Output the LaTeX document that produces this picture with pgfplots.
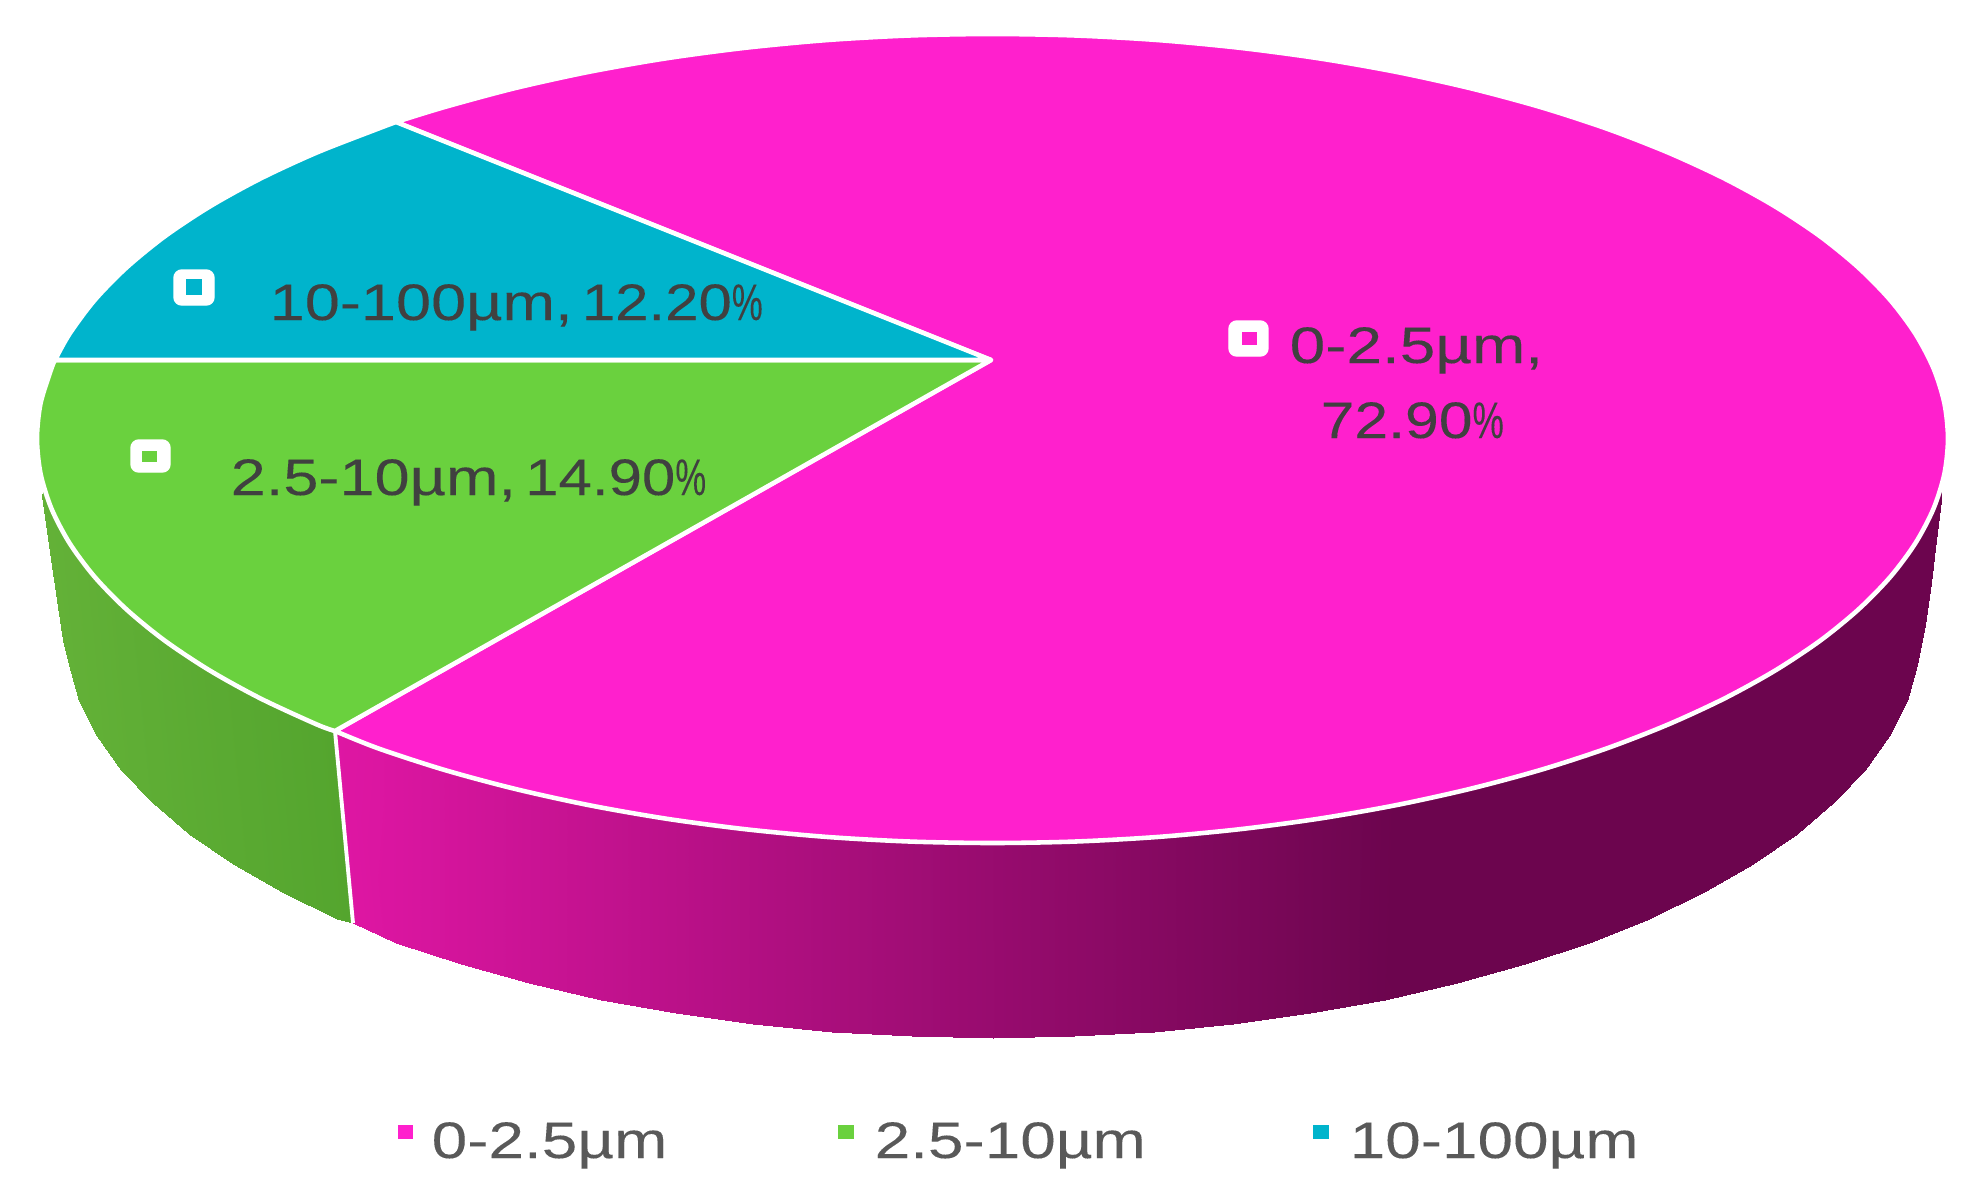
\documentclass[border=0pt]{standalone}
\usepackage{pgfplots}
\pgfplotsset{compat=1.18}
\usepackage{fontspec}
\newfontfamily\lblfont[FakeStretch=1.23,FakeBold=0.12]{Liberation Sans}
\newfontfamily\widefont[FakeStretch=1.245,FakeBold=0.12]{Liberation Sans}
\definecolor{pinkc}{RGB}{255,32,205}
\definecolor{greenc}{RGB}{106,209,62}
\definecolor{tealc}{RGB}{0,180,204}
\definecolor{lbltxt}{RGB}{64,64,64}
\definecolor{legtxt}{RGB}{89,89,89}
\pgfplotsset{
  colormap={pinkside}{rgb255=(222,22,163) rgb255=(108,5,78)},
  colormap={greenside}{rgb255=(84,165,46) rgb255=(100,178,56)},
}
\tikzset{
  lbl/.style={anchor=base west, inner sep=0pt, font=\lblfont\fontsize{14.6}{16}\selectfont, text=lbltxt},
  wlbl/.style={anchor=base west, inner sep=0pt, font=\widefont\fontsize{14.6}{16}\selectfont, text=lbltxt},
  leg/.style={anchor=base west, inner sep=0pt, font=\widefont\fontsize{14.6}{16}\selectfont, text=legtxt},
  wedge/.style={draw=white, line width=1.3pt, line join=round},
  box/.style={fill=white, draw=white, rounded corners=2.2pt},
}
\newcommand{\pct}{\scalebox{0.55}[1]{\%}}
\newcommand{\num}[1]{\scalebox{0.95}[1]{#1}}
\begin{document}
\begin{tikzpicture}
\useasboundingbox (0,0) rectangle (19.77cm,12.03cm);
\begin{axis}[
    at={(0,0)}, anchor=south west,
    scale only axis, width=19.77cm, height=12.03cm,
    view={0}{90},
    xmin=0, xmax=1977, ymin=0, ymax=1203, zmin=-1, zmax=1,
    y dir=reverse,
    hide axis, clip=false,
    point meta min=0, point meta max=1,
]
% side of the 0-2.5um slice: upper edge, then lower edge
\addplot3[surf, shader=interp, colormap name=pinkside, mesh/rows=2, point meta=explicit]
  table[x=x, y=y, z expr=0, meta=m] {
x y m
335 731 0
378.3 748.4 .024
444.4 769.9 .088
514.7 788.8 .156
588.7 805.1 .227
665.7 818.6 .302
745.2 829.2 .378
826.6 836.9 .457
909.2 841.5 .536
992.5 843 .617
1075.8 841.5 .697
1158.4 836.9 .777
1239.8 829.2 .855
1319.3 818.6 .932
1396.3 805.1 1
1470.3 788.8 1
1540.6 769.9 1
1606.7 748.4 1
1668.1 724.5 1
1724.4 698.5 1
1775.2 670.5 1
1820 640.8 1
1858.5 609.4 1
1890.4 576.8 1
1915.4 543.2 1
1925 525 1
1933.5 508.7 1
1938 498 1
1940.5 494 1
1941.5 492 1
1942 490 1
353 923 0
396.5 942.5 .042
460.7 964.2 .104
529 983.3 .170
600.8 999.8 .239
675.6 1013.4 .311
752.8 1024.1 .386
831.9 1031.8 .462
912.1 1036.4 .539
993 1038 .617
1073.9 1036.4 .695
1154.1 1031.8 .772
1233.2 1024.1 .849
1310.4 1013.4 .923
1385.2 999.8 .995
1457 983.3 1
1525.3 964.2 1
1589.5 942.5 1
1649.2 918.5 1
1703.8 892.3 1
1753.2 864 1
1796.6 834 1
1834 802.4 1
1865 769.5 1
1889.4 735.6 1
1906.9 700.8 1
1917 665 1
1925 625 1
1931 583 1
1936 540 1
1942 493 1
};
% side of the 2.5-10um slice
\addplot3[surf, shader=interp, colormap name=greenside, mesh/rows=2, point meta=explicit]
  table[x=x, y=y, z expr=0, meta=m] {
x y m
335 731 0
316.9 724.5 .06
260.6 698.5 .24
209.8 670.5 .40
165 640.8 .55
126.5 609.4 .67
94.6 576.8 .78
69.6 543.2 .86
51.5 508.7 .91
48 500 .92
46 497 .93
45 494 .93
44 492 .96
43 490 1
353 923 0
336.8 918.5 .05
282.2 892.3 .23
232.8 864 .39
189.4 834 .53
152 802.4 .65
121 769.5 .75
96.6 735.6 .83
79.1 700.8 .88
69 665 .92
63 640 .93
58 607 .95
50 552 .98
42 496 1
};
% seam between the two sides
\addplot[white, line width=1.1pt] coordinates {(335,731) (353,923)};

% top faces
\addplot[wedge, fill=pinkc, smooth] coordinates {
(396,122) (444.4,107.1) (514.7,88.2) (588.7,71.9) (665.7,58.4) (745.2,47.8)
(826.6,40.1) (909.2,35.5) (992.5,34) (1075.8,35.5) (1158.4,40.1) (1239.8,47.8)
(1319.3,58.4) (1396.3,71.9) (1470.3,88.2) (1540.6,107.1) (1606.7,128.6) (1668.1,152.5)
(1724.4,178.5) (1775.2,206.5) (1820,236.2) (1858.5,267.6) (1890.4,300.2) (1915.4,333.8)
(1933.5,368.3) (1944.4,403.2) (1948,438.5) (1944.4,473.8) (1933.5,508.7) (1915.4,543.2)
(1890.4,576.8) (1858.5,609.4) (1820,640.8) (1775.2,670.5) (1724.4,698.5) (1668.1,724.5)
(1606.7,748.4) (1540.6,769.9) (1470.3,788.8) (1396.3,805.1) (1319.3,818.6) (1239.8,829.2)
(1158.4,836.9) (1075.8,841.5) (992.5,843) (909.2,841.5) (826.6,836.9) (745.2,829.2)
(665.7,818.6) (588.7,805.1) (514.7,788.8) (444.4,769.9) (378.3,748.4) (335,731)
} -- (axis cs:991,360) -- cycle;
\addplot[wedge, fill=greenc, smooth] coordinates {
(335,731) (316.9,724.5) (260.6,698.5) (209.8,670.5) (165,640.8) (126.5,609.4)
(94.6,576.8) (69.6,543.2) (51.5,508.7) (40.6,473.8) (37,438.5) (40.6,403.2) (51.5,368.3) (55,360)
} -- (axis cs:991,360) -- cycle;
\addplot[wedge, fill=tealc, smooth] coordinates {
(55,360) (69.6,333.8) (94.6,300.2) (126.5,267.6) (165,236.2) (209.8,206.5)
(260.6,178.5) (316.9,152.5) (378.3,128.6) (396,122)
} -- (axis cs:991,360) -- cycle;

% data label keys
\addplot[box] coordinates {(1229,321) (1268,321) (1268,356) (1229,356)} -- cycle;
\addplot[fill=pinkc, draw=none] coordinates {(1242,332) (1257,332) (1257,345) (1242,345)} -- cycle;
\addplot[box] coordinates {(131,440) (170,440) (170,472) (131,472)} -- cycle;
\addplot[fill=greenc, draw=none] coordinates {(142,451) (157,451) (157,462) (142,462)} -- cycle;
\addplot[box] coordinates {(174,270) (214,270) (214,305) (174,305)} -- cycle;
\addplot[fill=tealc, draw=none] coordinates {(186,279) (202,279) (202,295) (186,295)} -- cycle;

% legend keys
\addplot[fill=pinkc, draw=none] coordinates {(398,1125) (413,1125) (413,1139) (398,1139)} -- cycle;
\addplot[fill=greenc, draw=none] coordinates {(838,1125) (854,1125) (854,1139) (838,1139)} -- cycle;
\addplot[fill=tealc, draw=none] coordinates {(1313,1125) (1329,1125) (1329,1139) (1313,1139)} -- cycle;

\node[wlbl] at (axis cs:1289,363) {0-2.5µm,};
\node[wlbl] at (axis cs:1320,438) {\num{72.90}\pct};
\node[lbl] at (axis cs:269,320) {10-100µm,\hspace{2.6pt}\num{12.20}\pct};
\node[lbl] at (axis cs:230,495) {2.5-10µm,\hspace{2.6pt}\num{14.90}\pct};

\node[leg] at (axis cs:431,1158) {0-2.5µm};
\node[leg] at (axis cs:874,1158) {2.5-10µm};
\node[leg] at (axis cs:1349,1158) {10-100µm};
\end{axis}
\end{tikzpicture}
\end{document}
